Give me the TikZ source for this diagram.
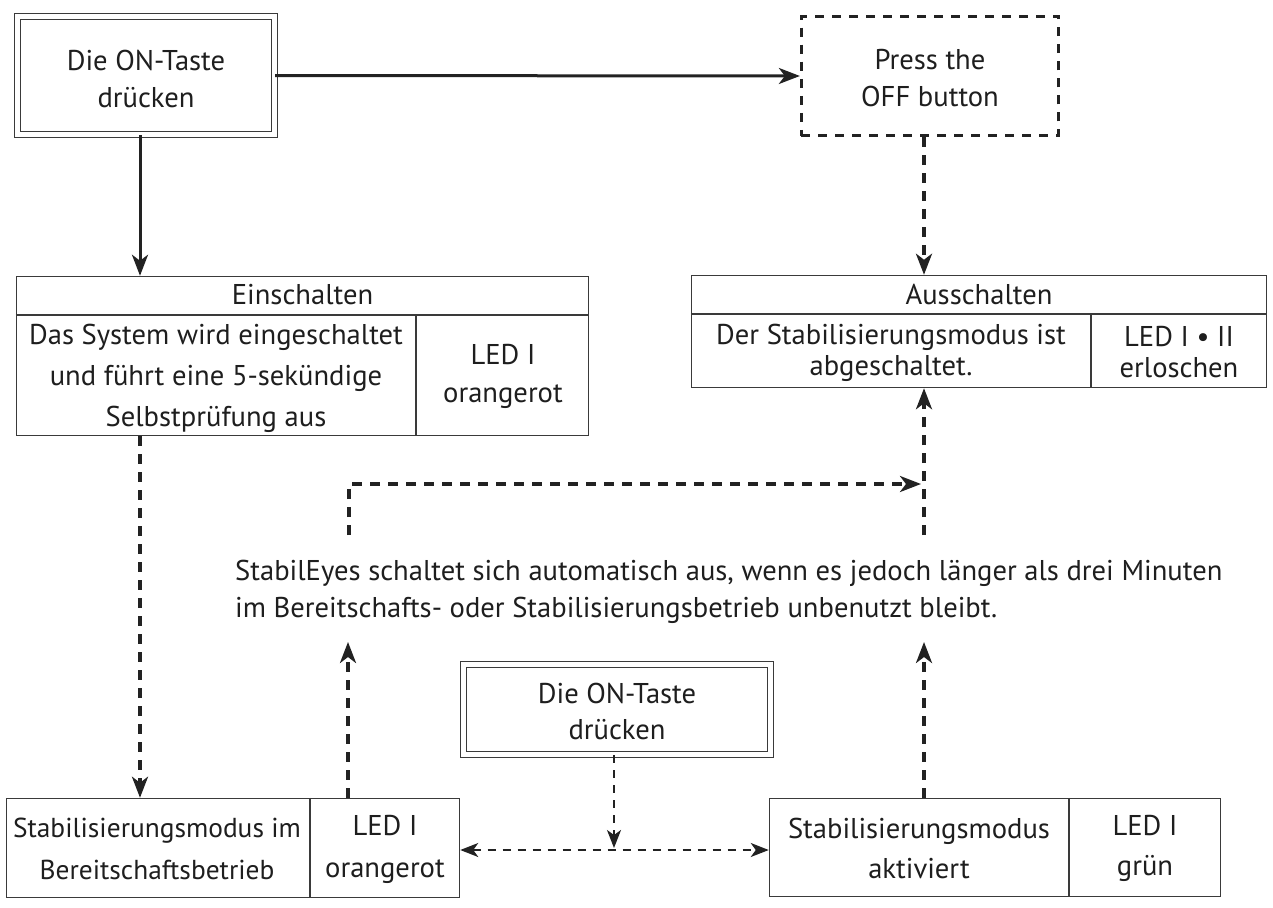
\documentclass[tikz,border=0pt]{standalone}
\usepackage{fontspec}
\setmainfont{PT Sans}
\usetikzlibrary{arrows.meta,calc}
\definecolor{linec}{HTML}{222222}
\definecolor{boxc}{HTML}{3A3A3A}
\definecolor{textc}{HTML}{1E1E1E}
\tikzset{
  lsp/.style={font=\fontsize{28.6}{#1}\selectfont},
  txt/.style={text=textc, align=center, inner sep=0pt, lsp=37},
  tbox/.style={draw=boxc, line width=1.5pt, inner sep=0pt, rectangle},
  tline/.style={draw=boxc, line width=1.5pt},
  dbox/.style={draw=boxc, line width=1.3pt, double, double distance=4.5pt, inner sep=0pt, rectangle},
  dashbox/.style={draw=linec, line width=2.8pt, dash pattern=on 9pt off 8pt, inner sep=0pt, rectangle},
  arr/.style={draw=linec, line width=3pt, -{Stealth[length=21pt,width=16pt,inset=6pt]}},
  darr/.style={arr, line width=3.4pt, dash pattern=on 10pt off 8pt},
  tarr/.style={draw=linec, line width=1.7pt, dash pattern=on 8pt off 7pt, -{Stealth[length=18pt,width=14pt,inset=5pt]}},
  tarr2/.style={tarr, {Stealth[length=18pt,width=14pt,inset=5pt]}-{Stealth[length=18pt,width=14pt,inset=5pt]}},
}
\begin{document}
\begin{tikzpicture}[x=1pt,y=-1pt]
\useasboundingbox[fill=white] (0,0) rectangle (1273,907);

% boxes
\node[dbox, minimum width=257pt, minimum height=118pt] (on1) at (146,75.5) {};
\node[txt] (on1t) at (146,78.5) {Die ON-Taste\\drücken};

\node[dashbox, minimum width=257.5pt, minimum height=119.5pt] (off) at (930,76) {};
\node[txt] (offt) at (930,78.5) {Press the\\OFF button};

\node[tbox, minimum width=572pt, minimum height=159pt] (ein) at (302.5,356) {};
\node[tbox, minimum width=575pt, minimum height=112pt] (aus) at (979,331.5) {};
\node[tbox, minimum width=453pt, minimum height=99pt] (sb) at (233,848) {};
\node[tbox, minimum width=451pt, minimum height=98pt] (act) at (995,847.5) {};

\node[dbox, minimum width=306.8pt, minimum height=89.8pt] (on2) at (617,709.5) {};
\node[txt, lsp=36] (on2t) at (617,711) {Die ON-Taste\\drücken};

% table lines
\coordinate (einH) at (0,315);
\coordinate (einD) at (416,0);
\draw[tline] (ein.west |- einH) -- (ein.east |- einH);
\draw[tline] (einD |- einH) -- (einD |- ein.south);
\coordinate (ausH) at (0,314);
\coordinate (ausD) at (1091,0);
\draw[tline] (aus.west |- ausH) -- (aus.east |- ausH);
\draw[tline] (ausD |- ausH) -- (ausD |- aus.south);
\coordinate (sbD) at (310,0);
\draw[tline] (sbD |- sb.north) -- (sbD |- sb.south);
\coordinate (actD) at (1069,0);
\draw[tline] (actD |- act.north) -- (actD |- act.south);

% table texts
\node[txt] (eint) at (302.5,295) {Einschalten};
\node[txt, lsp=41] (einl) at (216,378) {Das System wird eingeschaltet\\und führt eine 5-sekündige\\Selbstprüfung aus};
\node[txt, lsp=38] (einr) at (503,376) {LED I\\orangerot};
\node[txt] (aust) at (979,295) {Ausschalten};
\node[txt, lsp=31] (ausl) at (891,352.5) {Der Stabilisierungsmodus ist\\abgeschaltet.};
\node[txt, lsp=31] (ausr) at (1179,352.5) {LED I • II\\erloschen};
\node[txt, font=\fontsize{27.4}{42}\selectfont] (sbl) at (157,849) {Stabilisierungsmodus im\\Bereitschaftsbetrieb};
\node[txt, lsp=42] (sbr) at (385,849) {LED I\\orangerot};
\node[txt, lsp=40] (actl) at (919,848) {Stabilisierungsmodus\\aktiviert};
\node[txt, lsp=40] (actr) at (1145,848) {LED I\\grün};

\node[txt, align=left, anchor=west] (note) at (235,592) {StabilEyes schaltet sich automatisch aus, wenn es jedoch länger als drei Minuten\\im Bereitschafts- oder Stabilisierungsbetrieb unbenutzt bleibt.};

% connectors
\coordinate (xA) at (140,0);
\coordinate (xB) at (924,0);
\draw[arr] (on1.east) -- (off.west);
\draw[arr] (on1.south -| xA) -- (ein.north -| xA);
\draw[darr] (off.south -| xB) -- (aus.north -| xB);
\draw[darr] (ein.south -| xA) -- (sb.north -| xA);

\coordinate (upL) at (348,642);
\coordinate (upR) at (924,642);
\draw[darr] (sb.north -| upL) -- (upL);
\draw[darr] (act.north -| upR) -- (upR);

\coordinate (loopS) at (349,535);
\coordinate (loopC) at (349,484);
\coordinate (loopE) at (921,484);
\draw[darr] (loopS) -- (loopC) -- (loopE);
\coordinate (ausS) at (924,535);
\draw[darr] (ausS) -- (aus.south -| xB);

\coordinate (xM) at (614,0);
\coordinate (mid) at (614,848);
\coordinate (hm) at (0,850);
\draw[tarr] (on2.south -| xM) -- (mid);
\draw[tarr2] (sb.east |- hm) -- (act.west |- hm);
\end{tikzpicture}
\end{document}
